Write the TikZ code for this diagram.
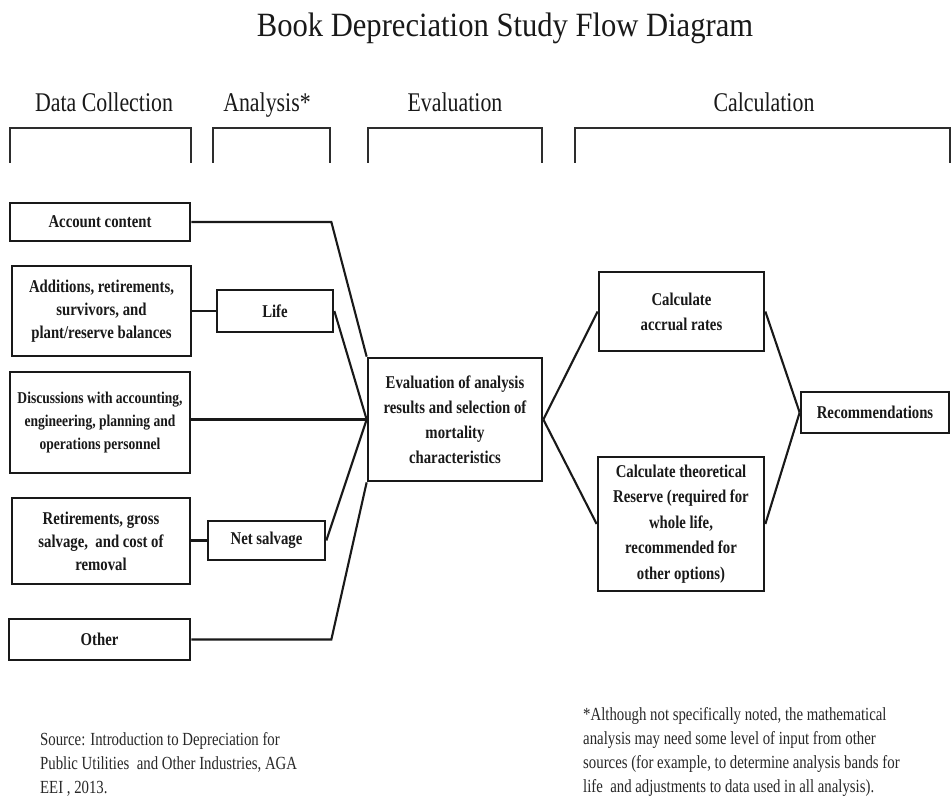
\documentclass[tikz,border=0pt]{standalone}
\usepackage{fontspec}
\setmainfont{Liberation Serif}
\newfontfamily\titlefont{Liberation Serif}[FakeStretch=0.9]
\newfontfamily\headfont{Liberation Serif}[FakeStretch=0.81]
\newfontfamily\boxfont{Liberation Serif}[FakeStretch=0.82]
\newfontfamily\notefont{Liberation Serif}[FakeStretch=0.8]
\definecolor{ink}{RGB}{25,25,25}
\definecolor{noteink}{RGB}{40,40,40}
\begin{document}
\begin{tikzpicture}[x=1pt,y=-1pt,
  box/.style={draw=ink, line width=2.7pt, fill=white, inner sep=0pt, align=center,
    font=\boxfont\bfseries\fontsize{18}{23}\selectfont, text=ink},
  conn/.style={line width=2.1pt, draw=ink},
  bracket/.style={line width=2.6pt, draw={rgb,255:red,45;green,45;blue,45}},
  head/.style={font=\headfont\fontsize{27}{30}\selectfont, anchor=base, text=ink},
  note/.style={font=\notefont\fontsize{18.5}{24}\selectfont, align=left, anchor=north west,
    inner sep=0pt, text=noteink}]
\useasboundingbox (0,0) rectangle (952,805);
\fill[white] (0,0) rectangle (952,805);

% title
\node[font=\titlefont\fontsize{34}{36}\selectfont, anchor=base, text=ink] (title) at (505,37) {Book Depreciation Study Flow Diagram};

% column headers
\node[head] (hdata) at (104,112) {Data Collection};
\node[head] (hana) at (267,112) {Analysis*};
\node[head] (heval) at (455,112) {Evaluation};
\node[head] (hcalc) at (764,112) {Calculation};

% brackets
\draw[bracket] (10,163) -- (10,128) -- (191,128) -- (191,163);
\draw[bracket] (213,163) -- (213,128) -- (330,128) -- (330,163);
\draw[bracket] (368,163) -- (368,128) -- (542,128) -- (542,163);
\draw[bracket] (575,163) -- (575,128) -- (950,128) -- (950,163);

% boxes
\node[box, minimum width=180pt, minimum height=38pt] (acc) at (100,222) {Account content};
\node[box, minimum width=179pt, minimum height=90pt] (add) at (101.5,311) {Additions, retirements,\\ survivors, and\\ plant/reserve balances};
\node[box, minimum width=116pt, minimum height=42pt] (life) at (275,311) {Life};
\node[box, minimum width=180pt, minimum height=101pt, font=\boxfont\bfseries\fontsize{16.5}{23}\selectfont] (disc) at (100,422.5) {Discussions with accounting,\\ engineering, planning and\\ operations personnel};
\node[box, minimum width=178pt, minimum height=86pt] (ret) at (101,541) {Retirements, gross\\ salvage,~ and cost of\\ removal};
\node[box, minimum width=117pt, minimum height=39pt] (net) at (266.5,540.5) {Net salvage};
\node[box, minimum width=181pt, minimum height=41pt] (other) at (99.5,639.5) {Other};
\node[box, minimum width=174pt, minimum height=123pt, font=\boxfont\bfseries\fontsize{18}{25}\selectfont] (eval) at (455,419.5) {Evaluation of analysis\\ results and selection of\\ mortality\\ characteristics};
\node[box, minimum width=165pt, minimum height=79pt, font=\boxfont\bfseries\fontsize{18}{25}\selectfont] (accr) at (681.5,311.5) {Calculate\\ accrual rates};
\node[box, minimum width=166pt, minimum height=134pt, font=\boxfont\bfseries\fontsize{18}{25.5}\selectfont] (theo) at (681,524) {Calculate theoretical\\ Reserve (required for\\ whole life,\\ recommended for\\ other options)};
\node[box, minimum width=148pt, minimum height=41pt] (rec) at (875,412.5) {Recommendations};

% connectors
\draw[conn] (acc.east) -- ++(140,0) -- (eval.north west);
\draw[conn] (add.east |- life.west) -- (life.west);
\draw[conn] (life.east) -- (eval.west);
\draw[conn] (disc.east |- eval.west) -- (eval.west);
\draw[conn] (ret.east |- net.west) -- (net.west);
\draw[conn] (net.east) -- (eval.west);
\draw[conn] (other.east) -- ++(140,0) -- (eval.south west);
\draw[conn] (eval.east) -- (accr.west);
\draw[conn] (eval.east) -- (theo.west);
\draw[conn] (accr.east) -- (rec.west);
\draw[conn] (theo.east) -- (rec.west);

% notes
\node[note] (src) at (40,732) {Source: Introduction to Depreciation for\\ Public Utilities~ and Other Industries, AGA\\ EEI , 2013.};
\node[note] (star) at (583,707) {*Although not specifically noted, the mathematical\\ analysis may need some level of input from other\\ sources (for example, to determine analysis bands for\\ life~ and adjustments to data used in all analysis).};
\end{tikzpicture}
\end{document}
